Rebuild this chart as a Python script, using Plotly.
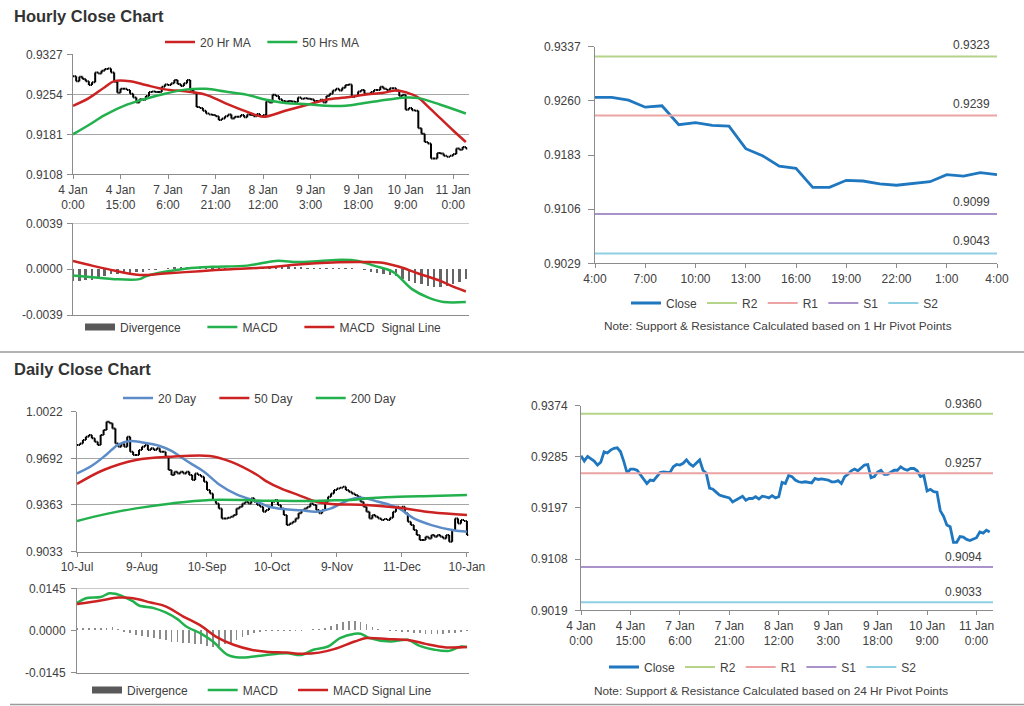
import plotly.graph_objects as go

W, H = 1024, 706
FONT = "Liberation Sans, Arial, sans-serif"
TXT = "#404040"
AXC = "#8C8C8C"
GRID = "#A6A6A6"
RED = "#CC2222"
GREEN = "#22B14C"
BLUE20 = "#5B8CC8"
CLOSE_BLUE = "#1F77C0"
DIVC = "#666666"

# ---------------- data: hourly (4 Jan 0:00 .. 11 Jan 4:00, trading hours) ----------------
hourly_close = [
    0.9287, 0.9278, 0.9286, 0.9282, 0.9278, 0.9271, 0.9276, 0.9294, 0.9292, 0.9297,
    0.9300, 0.9301, 0.9294, 0.9277, 0.9257, 0.9264, 0.9264, 0.9262, 0.9255, 0.9248,
    0.9239, 0.9245, 0.9244, 0.9251, 0.9258, 0.9259, 0.9258, 0.9258, 0.9268, 0.9272,
    0.9271, 0.9274, 0.9280, 0.9273, 0.9269, 0.9274, 0.9280, 0.9262, 0.9257, 0.9231,
    0.9229, 0.9224, 0.9219, 0.9217, 0.9216, 0.9214, 0.9207, 0.9210, 0.9214, 0.9217,
    0.9210, 0.9213, 0.9213, 0.9216, 0.9212, 0.9217, 0.9216, 0.9214, 0.9218, 0.9214,
    0.9216, 0.9241, 0.9239, 0.9253, 0.9251, 0.9245, 0.9242, 0.9241, 0.9242, 0.9241,
    0.9240, 0.9248, 0.9246, 0.9247, 0.9246, 0.9245, 0.9242, 0.9242, 0.9244, 0.9239,
    0.9251, 0.9255, 0.9261, 0.9264, 0.9261, 0.9266, 0.9271, 0.9272, 0.9249, 0.9251,
    0.9259, 0.9262, 0.9255, 0.9255, 0.9258, 0.9262, 0.9262, 0.9268, 0.9264, 0.9262,
    0.9265, 0.9265, 0.9261, 0.9251, 0.9253, 0.9226, 0.9229, 0.9225, 0.9224, 0.9192,
    0.9182, 0.9167, 0.9164, 0.9137, 0.9137, 0.9147, 0.9146, 0.9142, 0.9140, 0.9142,
    0.9145, 0.9155, 0.9153, 0.9158, 0.9155,
]
hourly_tick_pos = [0, 15, 30, 45, 60, 75, 90, 105, 120]
hourly_tick_text = ["4 Jan<br>0:00", "4 Jan<br>15:00", "7 Jan<br>6:00", "7 Jan<br>21:00",
                    "8 Jan<br>12:00", "9 Jan<br>3:00", "9 Jan<br>18:00", "10 Jan<br>9:00",
                    "11 Jan<br>0:00"]

ma20_hr_x = [0, 5, 10, 13, 18, 23, 29, 36, 42, 48, 55, 60, 67, 74, 80, 86, 92, 98, 102, 105, 109, 112, 116, 120, 124]
ma20_hr = [0.9233, 0.9247, 0.9267, 0.9278, 0.9278, 0.9271, 0.9263, 0.9259, 0.9253, 0.9238,
           0.9222, 0.9213, 0.9224, 0.9235, 0.9244, 0.9248, 0.9253, 0.9257, 0.9261, 0.9258,
           0.9248, 0.9232, 0.9210, 0.9188, 0.9167]
ma50_hr_x = [0, 5, 10, 17, 23, 29, 36, 42, 48, 55, 61, 67, 74, 80, 86, 92, 99, 105, 109, 116, 124]
ma50_hr = [0.9181, 0.9198, 0.9216, 0.9235, 0.9246, 0.9255, 0.9263, 0.9264, 0.9259, 0.9253,
           0.9244, 0.9238, 0.9236, 0.9233, 0.9233, 0.9238, 0.9244, 0.9248, 0.9247, 0.9235, 0.9219]

macd_hr_x = [0, 8, 13, 21, 23, 29, 36, 44, 55, 64, 71, 78, 85, 90, 95, 101, 107, 112, 117, 124]
macd_hr = [-0.00054, -0.00074, -0.00085, -0.00085, -0.0006, -0.00023, 0.00006, 0.0002, 0.0003, 0.0007,
           0.0006, 0.0007, 0.0008, 0.0007, 0.0003, -0.00023, -0.0017, -0.0024, -0.0028, -0.0028]
signal_hr_x = [0, 6, 11, 21, 29, 40, 50, 61, 71, 82, 90, 97, 103, 109, 116, 121, 124]
signal_hr = [0.0007, 0.0003, 0.0, -0.0005, -0.00037, -0.00017, 0.0, 0.00014, 0.0004, 0.00057,
             0.0006, 0.00057, 0.0002, -0.00037, -0.001, -0.0016, -0.0019]
div_hr_x = list(range(0, 125, 2))
div_hr = [-0.0010, -0.0010, -0.0009, -0.0009, -0.0008, -0.0006, -0.0004, -0.0004, -0.0003, -0.0003,
          -0.0002, -0.0002, -0.0001, -0.00005, 0.0, 0.0001, 0.0002, 0.0002, 0.0002, 0.0002,
          0.0002, 0.0001, 0.0001, 0.0001, 0.0001, 0.0001, 0.0001, 0.0001, 0.0001, 0.0001,
          0.0002, 0.0002, 0.0003, 0.0003, 0.0003, 0.0002, 0.0002, 0.0001, 0.0001, 0.0001,
          0.0001, 0.0001, 0.0001, 0.0001, 0.0001, 0.0, -0.0001, -0.0002, -0.0003, -0.0004,
          -0.0005, -0.0006, -0.0008, -0.0010, -0.0012, -0.0013, -0.0014, -0.0015, -0.0015, -0.0014,
          -0.0013, -0.0011, -0.0008]

# last 25 hours (10 Jan 4:00 .. 11 Jan 4:00) for the 1 Hr pivot chart
pivot1_tick_text = ["4:00", "7:00", "10:00", "13:00", "16:00", "19:00", "22:00", "1:00", "4:00"]
pivot_names = ["R2", "R1", "S1", "S2"]
pivot_colors = ["#B5D38A", "#EBA3A3", "#A993CA", "#8ED0E2"]
pivot_1h_levels = [0.9323, 0.9239, 0.9099, 0.9043]
pivot_24h_levels = [0.9360, 0.9257, 0.9094, 0.9033]

# ---------------- data: daily (10 Jul .. 10 Jan) ----------------
daily_close = [
    0.9786, 0.9798, 0.9822, 0.9845, 0.9857, 0.9834, 0.9810, 0.9786, 0.9857, 0.9892,
    0.9951, 0.9940, 0.9904, 0.9798, 0.9775, 0.9798, 0.9775, 0.9845, 0.9739, 0.9716,
    0.9716, 0.9751, 0.9775, 0.9786, 0.9751, 0.9763, 0.9751, 0.9763, 0.9739, 0.9739,
    0.9704, 0.9610, 0.9575, 0.9598, 0.9586, 0.9598, 0.9586, 0.9598, 0.9575, 0.9539,
    0.9586, 0.9575, 0.9563, 0.9527, 0.9469, 0.9445, 0.9398, 0.9374, 0.9339, 0.9268,
    0.9268, 0.9273, 0.9280, 0.9292, 0.9339, 0.9351, 0.9374, 0.9386, 0.9374, 0.9410,
    0.9386, 0.9363, 0.9351, 0.9315, 0.9327, 0.9351, 0.9386, 0.9398, 0.9363, 0.9339,
    0.9292, 0.9221, 0.9233, 0.9245, 0.9268, 0.9304, 0.9327, 0.9339, 0.9351, 0.9374,
    0.9363, 0.9327, 0.9304, 0.9327, 0.9386, 0.9422, 0.9445, 0.9469, 0.9480, 0.9485,
    0.9492, 0.9469, 0.9457, 0.9445, 0.9433, 0.9422, 0.9386, 0.9351, 0.9315, 0.9268,
    0.9292, 0.9280, 0.9268, 0.9257, 0.9264, 0.9257, 0.9273, 0.9315, 0.9351, 0.9344,
    0.9351, 0.9304, 0.9245, 0.9221, 0.9186, 0.9151, 0.9115, 0.9115, 0.9139, 0.9127,
    0.9151, 0.9139, 0.9151, 0.9139, 0.9127, 0.9151, 0.9104, 0.9186, 0.9268, 0.9233,
    0.9257, 0.9250, 0.9151,
]
daily_tick_pos = [0, 22, 44, 66, 88, 110, 132]
daily_tick_text = ["10-Jul", "9-Aug", "10-Sep", "10-Oct", "9-Nov", "11-Dec", "10-Jan"]

ma20_d_x = [0, 5, 10, 14, 18, 22, 28, 32, 35, 39, 43, 48, 54, 61, 65, 70, 76, 81, 86, 92, 96, 102, 109, 114, 120, 127, 132]
ma20_d = [0.9586, 0.9640, 0.9720, 0.9790, 0.9815, 0.9805, 0.9780, 0.9745, 0.9704, 0.9650,
          0.9598, 0.9510, 0.9438, 0.9386, 0.9351, 0.9334, 0.9325, 0.9315, 0.9339, 0.9398,
          0.9414, 0.9386, 0.9339, 0.9268, 0.9221, 0.9186, 0.9174]
ma50_d_x = [0, 9, 20, 32, 45, 52, 61, 64, 69, 75, 81, 86, 98, 109, 120, 132]
ma50_d = [0.9511, 0.9610, 0.9681, 0.9704, 0.9709, 0.9669, 0.9575, 0.9532, 0.9480, 0.9433,
          0.9386, 0.9370, 0.9363, 0.9344, 0.9311, 0.9292]
ma200_d_x = [0, 10, 20, 32, 45, 65, 75, 85, 92, 100, 109, 120, 132]
ma200_d = [0.9250, 0.9300, 0.9339, 0.9374, 0.9398, 0.9393, 0.9391, 0.9395, 0.9398, 0.9412,
           0.9422, 0.9427, 0.9433]

macd_d_x = [0, 3, 8, 11, 13, 16, 19, 21, 26, 30, 34, 37, 42, 46, 51, 54, 58, 64, 71, 76, 80,
            85, 89, 94, 96, 99, 106, 112, 116, 121, 126, 130, 132]
macd_d = [0.0094, 0.0111, 0.0115, 0.0128, 0.0126, 0.0115, 0.0100, 0.0086, 0.0077, 0.0062, 0.0039,
          0.0014, -0.0011, -0.0038, -0.0084, -0.0092, -0.0092, -0.0084, -0.0078, -0.0084, -0.0066,
          -0.0055, -0.0026, -0.0011, -0.0011, -0.0026, -0.0038, -0.0032, -0.0053, -0.0066, -0.0070,
          -0.0055, -0.0057]
signal_d_x = [0, 8, 14, 19, 25, 30, 36, 42, 47, 53, 59, 64, 71, 76, 82, 87, 94, 98, 105, 113, 118, 125, 132]
signal_d = [0.0091, 0.0103, 0.0113, 0.0111, 0.0096, 0.0083, 0.0048, 0.0016, -0.0021, -0.0049,
            -0.0066, -0.0073, -0.0076, -0.0080, -0.0076, -0.0064, -0.0038, -0.0026, -0.0029,
            -0.0034, -0.0046, -0.0058, -0.0057]
div_d_x = list(range(0, 133, 2))
div_d = [0.0007, 0.0008, 0.0008, 0.0008, 0.0009, 0.0010, 0.0011, 0.0006, -0.0005, -0.0010,
         -0.0014, -0.0018, -0.0022, -0.0025, -0.0028, -0.0032, -0.0038, -0.0040, -0.0042, -0.0043,
         -0.0045, -0.0048, -0.0052, -0.0055, -0.0053, -0.0048, -0.0042, -0.0034, -0.0024, -0.0015,
         -0.0008, -0.0005, -0.0003, -0.0002, -0.0002, -0.0002, -0.0003, -0.0002, -0.0001, 0.0002,
         0.0004, 0.0006, 0.0010, 0.0016, 0.0022, 0.0028, 0.0031, 0.0031, 0.0028, 0.0022,
         0.0012, 0.0004, 0.0000, -0.0002, -0.0003, -0.0004, -0.0006, -0.0008, -0.0010, -0.0012,
         -0.0013, -0.0012, -0.0012, -0.0010, -0.0008, -0.0004, -0.0001]


# ---------------- helpers ----------------
def fx(p):
    return p / W


def fy(p):
    return 1 - p / H


def ohlc_from_close(close):
    opens = [close[0]] + close[:-1]
    highs = [max(o, c) for o, c in zip(opens, close)]
    lows = [min(o, c) for o, c in zip(opens, close)]
    return opens, highs, lows


def yax(top, bot, rng, tickvals, anchor, grid=True, standoff=2, ticklen=5):
    return dict(domain=[fy(bot), fy(top)], range=rng, tickvals=tickvals, anchor=anchor,
                ticktext=[f"{v:.4f}" for v in tickvals], automargin=False,
                showgrid=grid, gridcolor=GRID, gridwidth=1, zeroline=False,
                showline=True, linecolor=AXC, linewidth=1,
                ticks="outside", ticklen=ticklen, tickcolor=AXC,
                ticklabelstandoff=standoff,
                tickfont=dict(family=FONT, size=12, color=TXT), fixedrange=True)


def xax(left, right, rng, anchor, tickvals=None, ticktext=None, labels=True):
    d = dict(domain=[fx(left), fx(right)], range=rng, anchor=anchor, automargin=False,
             showgrid=False, zeroline=False, showline=True, linecolor=AXC, linewidth=1,
             rangeslider=dict(visible=False), fixedrange=True,
             tickfont=dict(family=FONT, size=12, color=TXT))
    if labels:
        d.update(tickvals=tickvals, ticktext=ticktext, ticks="outside", ticklen=4,
                 tickcolor=AXC, showticklabels=True)
    else:
        d.update(showticklabels=False, ticks="")
    return d


NB = "\u00a0"
fig = go.Figure()

# ---- Panel 1: hourly OHLC + MAs ----
hx = list(range(len(hourly_close)))
o, h, l = ohlc_from_close(hourly_close)
fig.add_trace(go.Ohlc(x=hx, open=o, high=h, low=l, close=hourly_close,
                      increasing_line_color="black", decreasing_line_color="black",
                      line_width=2, tickwidth=0.45, xaxis="x", yaxis="y", showlegend=False,
                      hoverinfo="skip"))
fig.add_trace(go.Scatter(x=ma20_hr_x, y=ma20_hr, mode="lines", name="20 Hr MA" + NB * 2,
                         line=dict(color=RED, width=2.5, shape="spline"), xaxis="x", yaxis="y",
                         legend="legend"))
fig.add_trace(go.Scatter(x=ma50_hr_x, y=ma50_hr, mode="lines", name="50 Hrs MA",
                         line=dict(color=GREEN, width=2.5, shape="spline"), xaxis="x", yaxis="y",
                         legend="legend"))

# ---- Panel 2: hourly MACD ----
fig.add_trace(go.Bar(x=div_hr_x, y=div_hr, marker_color=DIVC, marker_line_width=0, width=0.75,
                     xaxis="x2", yaxis="y2", showlegend=False, hoverinfo="skip"))
fig.add_trace(go.Scatter(x=[None], y=[None], mode="lines", name="Divergence" + NB * 5,
                         line=dict(color="#595959", width=7), xaxis="x2", yaxis="y2", legend="legend2"))
fig.add_trace(go.Scatter(x=macd_hr_x, y=macd_hr, mode="lines", name="MACD" + NB * 5,
                         line=dict(color=GREEN, width=2.5, shape="spline"), xaxis="x2", yaxis="y2",
                         legend="legend2"))
fig.add_trace(go.Scatter(x=signal_hr_x, y=signal_hr, mode="lines", name="MACD  Signal Line",
                         line=dict(color=RED, width=2.5, shape="spline"), xaxis="x2", yaxis="y2",
                         legend="legend2"))

# ---- Panel 3: last 25 hours with 1 Hr pivots ----
p1_close = hourly_close[-25:]
p1x = list(range(len(p1_close)))
fig.add_trace(go.Scatter(x=p1x, y=p1_close, mode="lines", name="Close",
                         line=dict(color=CLOSE_BLUE, width=2.8), xaxis="x3", yaxis="y3", legend="legend3"))
for nm, col, lv in zip(pivot_names, pivot_colors, pivot_1h_levels):
    fig.add_trace(go.Scatter(x=[0, p1x[-1]], y=[lv, lv], mode="lines", name=nm,
                             line=dict(color=col, width=2), xaxis="x3", yaxis="y3", legend="legend3"))
    fig.add_annotation(x=p1x[-1], y=lv, xref="x3", yref="y3", text=f"{lv:.4f}", showarrow=False,
                       xanchor="right", yanchor="middle", xshift=-5, yshift=12,
                       font=dict(family=FONT, size=12, color=TXT))

# ---- Panel 4: daily OHLC + MAs ----
dx = list(range(len(daily_close)))
o, h, l = ohlc_from_close(daily_close)
fig.add_trace(go.Ohlc(x=dx, open=o, high=h, low=l, close=daily_close,
                      increasing_line_color="black", decreasing_line_color="black",
                      line_width=2, tickwidth=0.45, xaxis="x4", yaxis="y4", showlegend=False,
                      hoverinfo="skip"))
fig.add_trace(go.Scatter(x=ma20_d_x, y=ma20_d, mode="lines", name="20 Day" + NB * 4,
                         line=dict(color=BLUE20, width=2.5, shape="spline"), xaxis="x4", yaxis="y4",
                         legend="legend4"))
fig.add_trace(go.Scatter(x=ma50_d_x, y=ma50_d, mode="lines", name="50 Day" + NB * 4,
                         line=dict(color=RED, width=2.5, shape="spline"), xaxis="x4", yaxis="y4",
                         legend="legend4"))
fig.add_trace(go.Scatter(x=ma200_d_x, y=ma200_d, mode="lines", name="200 Day",
                         line=dict(color=GREEN, width=2.5, shape="spline"), xaxis="x4", yaxis="y4",
                         legend="legend4"))

# ---- Panel 5: daily MACD ----
fig.add_trace(go.Bar(x=div_d_x, y=div_d, marker_color="#8C8C8C", marker_line_width=0, width=0.6,
                     xaxis="x5", yaxis="y5", showlegend=False, hoverinfo="skip"))
fig.add_trace(go.Scatter(x=[None], y=[None], mode="lines", name="Divergence" + NB * 3,
                         line=dict(color="#595959", width=7), xaxis="x5", yaxis="y5", legend="legend5"))
fig.add_trace(go.Scatter(x=macd_d_x, y=macd_d, mode="lines", name="MACD" + NB * 3,
                         line=dict(color=GREEN, width=2.5, shape="spline"), xaxis="x5", yaxis="y5",
                         legend="legend5"))
fig.add_trace(go.Scatter(x=signal_d_x, y=signal_d, mode="lines", name="MACD Signal Line",
                         line=dict(color=RED, width=2.5, shape="spline"), xaxis="x5", yaxis="y5",
                         legend="legend5"))

# ---- Panel 6: hourly close with 24 Hr pivots ----
fig.add_trace(go.Scatter(x=hx, y=hourly_close, mode="lines", name="Close",
                         line=dict(color=CLOSE_BLUE, width=2.8), xaxis="x6", yaxis="y6", legend="legend6"))
for nm, col, lv in zip(pivot_names, pivot_colors, pivot_24h_levels):
    fig.add_trace(go.Scatter(x=[0, 125], y=[lv, lv], mode="lines", name=nm,
                             line=dict(color=col, width=2), xaxis="x6", yaxis="y6", legend="legend6"))
    fig.add_annotation(x=125, y=lv, xref="x6", yref="y6", text=f"{lv:.4f}", showarrow=False,
                       xanchor="right", yanchor="middle", xshift=-9, yshift=10,
                       font=dict(family=FONT, size=12, color=TXT))

# ---------------- layout ----------------
legend_common = dict(orientation="h", xanchor="left", yanchor="middle", bgcolor="rgba(0,0,0,0)",
                     font=dict(family=FONT, size=12, color=TXT), itemwidth=30,
                     itemclick=False, itemdoubleclick=False, tracegroupgap=0)

layout = dict(
    template="none",
    width=W, height=H, margin=dict(l=0, r=0, t=0, b=0, autoexpand=False),
    paper_bgcolor="white", plot_bgcolor="white", bargap=0,
    font=dict(family=FONT, size=12, color=TXT),
    xaxis=xax(73, 469, [0, 125], "y", hourly_tick_pos, hourly_tick_text),
    yaxis=yax(54.3, 174.3, [0.9108, 0.9327], [0.9108, 0.9181, 0.9254, 0.9327], "x", standoff=2),
    xaxis2=xax(73, 469, [0, 125], "y2", labels=False),
    yaxis2=yax(223.3, 315, [-0.0039, 0.0039], [-0.0039, 0.0, 0.0039], "x2", grid=False, standoff=2),
    xaxis3=xax(595, 997, [0, 24], "y3", list(range(0, 25, 3)), pivot1_tick_text),
    yaxis3=yax(46.7, 263.3, [0.9029, 0.9337], [0.9029, 0.9106, 0.9183, 0.9260, 0.9337], "x3",
               grid=False, standoff=5, ticklen=6),
    xaxis4=xax(77, 469, [0, 132.7], "y4", daily_tick_pos, daily_tick_text),
    yaxis4=yax(411.7, 551.7, [0.9033, 1.0022], [0.9033, 0.9363, 0.9692, 1.0022], "x4", standoff=6),
    xaxis5=xax(77, 469, [0, 132.7], "y5", labels=False),
    yaxis5=yax(588.3, 672.7, [-0.0145, 0.0145], [-0.0145, 0.0, 0.0145], "x5", grid=False, standoff=3),
    xaxis6=xax(581, 993, [0, 125], "y6", hourly_tick_pos, hourly_tick_text),
    yaxis6=yax(405.7, 610.3, [0.9019, 0.9374], [0.9019, 0.9108, 0.9197, 0.9285, 0.9374], "x6",
               grid=False, standoff=5, ticklen=5),
    legend=dict(legend_common, x=fx(160), y=fy(42)),
    legend2=dict(legend_common, x=fx(80), y=fy(327)),
    legend3=dict(legend_common, x=fx(626), y=fy(303)),
    legend4=dict(legend_common, x=fx(118), y=fy(398)),
    legend5=dict(legend_common, x=fx(87), y=fy(690)),
    legend6=dict(legend_common, x=fx(604), y=fy(667)),
)
fig.update_layout(**layout)

# top gridlines of the MACD panels
for ya, top in (("y2", 0.0039), ("y5", 0.0145)):
    fig.add_shape(type="line", xref=ya.replace("y", "x") + " domain", yref=ya, x0=0, x1=1, y0=top, y1=top,
                  line=dict(color=GRID, width=1))

# section separators
fig.add_shape(type="line", xref="paper", yref="paper", x0=0, x1=1, y0=fy(352), y1=fy(352),
              line=dict(color="#9A9A9A", width=1.5))
fig.add_shape(type="line", xref="paper", yref="paper", x0=fx(10), x1=1, y0=fy(704.5), y1=fy(704.5),
              line=dict(color="#9A9A9A", width=1.5))

# titles and notes
for txt, y in (("Hourly Close Chart", 16), ("Daily Close Chart", 369)):
    fig.add_annotation(x=fx(12), y=fy(y), xref="paper", yref="paper", text=f"<b>{txt}</b>",
                       showarrow=False, xanchor="left", yanchor="middle",
                       font=dict(family=FONT, size=16.5, color="#333333"))
for txt, xc, y in (("Note: Support & Resistance Calculated based on 1 Hr Pivot Points", 778, 326),
                   ("Note: Support & Resistance Calculated based on 24 Hr Pivot Points", 771, 691)):
    fig.add_annotation(x=fx(xc), y=fy(y), xref="paper", yref="paper", text=txt,
                       showarrow=False, xanchor="center", yanchor="middle",
                       font=dict(family=FONT, size=11.8, color=TXT))

fig.write_html("out.html", config={"displayModeBar": False, "staticPlot": True},
               post_script="document.body.style.margin='0px';")
